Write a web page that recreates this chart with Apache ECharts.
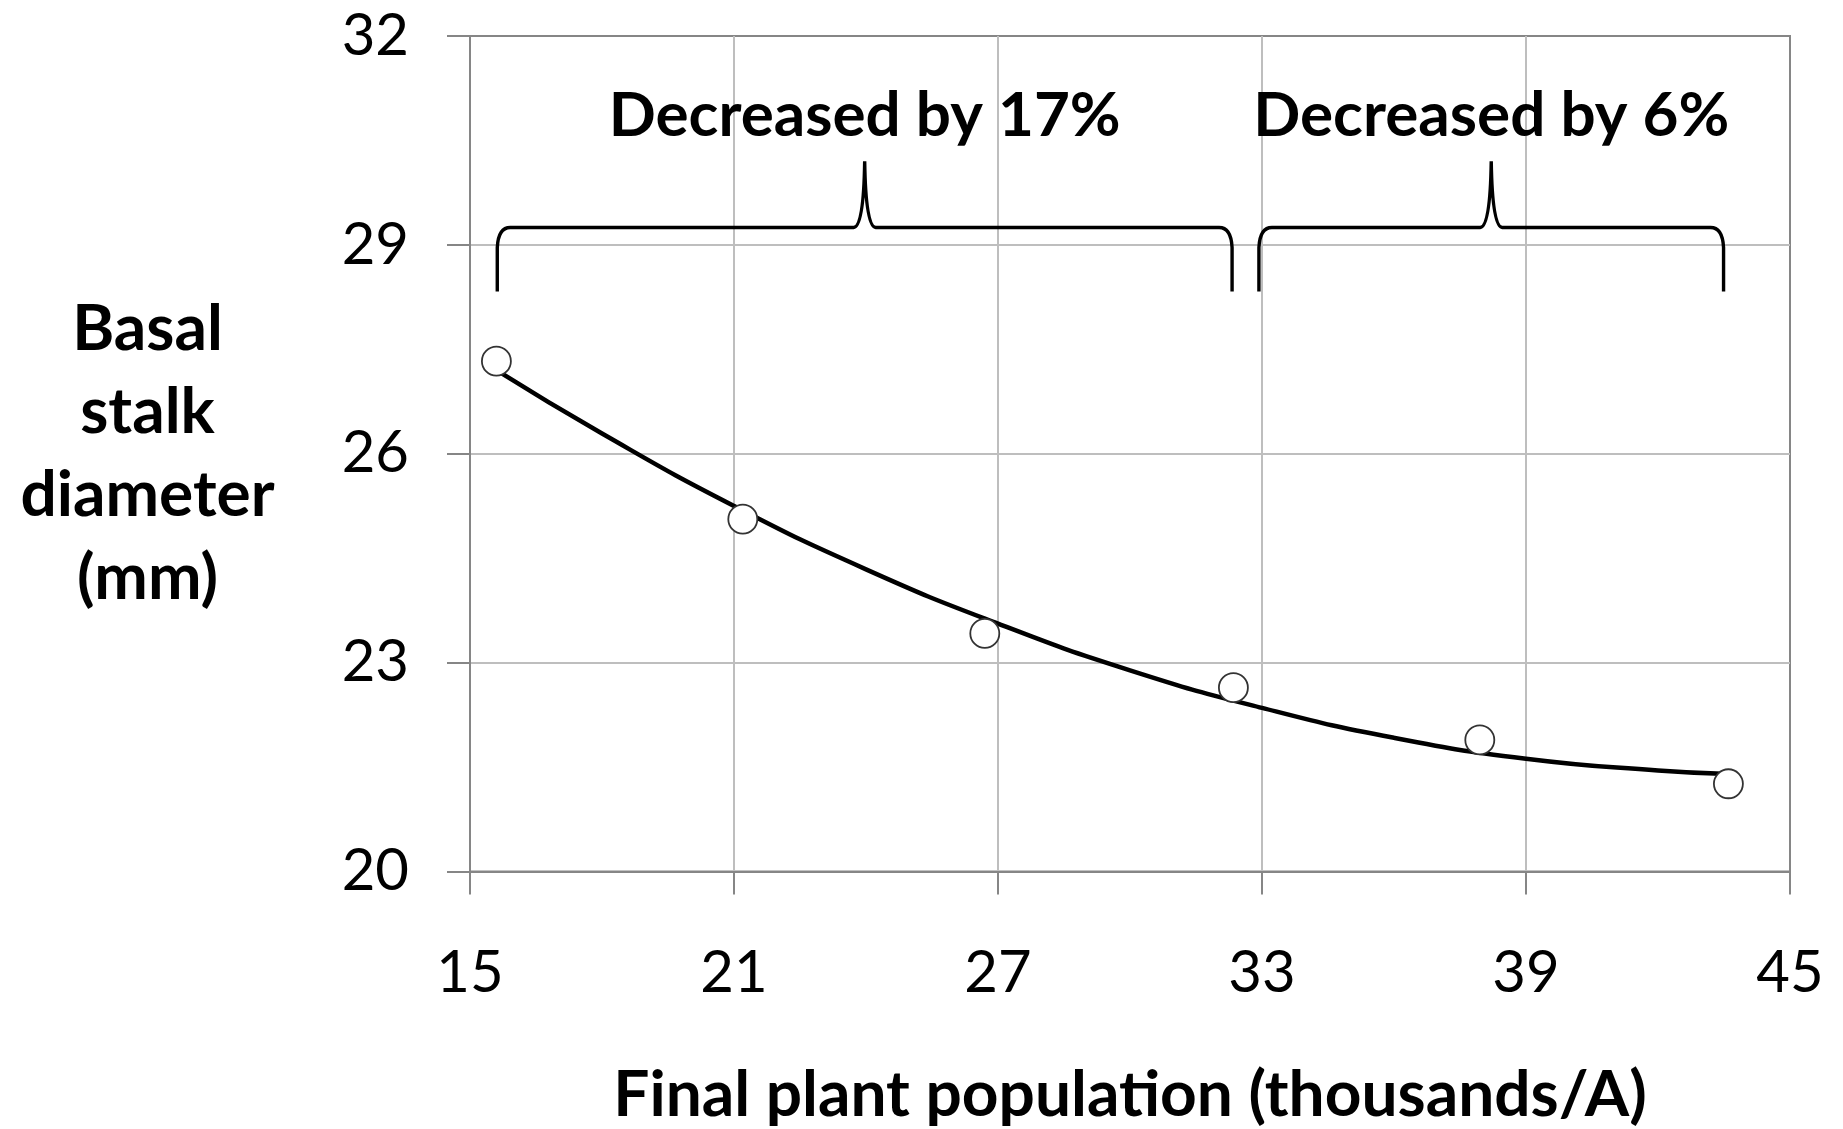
<!DOCTYPE html>
<html><head><meta charset="utf-8">
<script src="https://cdn.jsdelivr.net/npm/echarts@6/dist/echarts.min.js"></script>
<style>html,body{margin:0;padding:0;background:#fff;}#c{width:1843px;height:1129px;}</style>
</head><body><div id="c"></div>
<script>
// ---- data ----
const populationX   = [15.6, 21.2, 26.7, 32.35, 37.95, 43.6];
const stalkDiameter = [27.33, 25.06, 23.42, 22.64, 21.89, 21.26];
const trendX = [15.6, 18, 21, 24, 27, 30, 33, 36, 39, 42, 43.6];
const trendY = [27.20, 26.29, 25.25, 24.34, 23.56, 22.89, 22.35, 21.92, 21.62, 21.45, 21.40];
const braceStart  = [15.62, 32.93];
const braceEnd    = [32.32, 43.49];
const braceLabels = ['Decreased by 17%', 'Decreased by 6%'];
const xTicks = [15, 21, 27, 33, 39, 45];
const yTicks = [20, 23, 26, 29, 32];
const xTitle = 'Final plant population (thousands/A)';
const yTitle = 'Basal\nstalk\ndiameter\n(mm)';

// ---- layout / style constants ----
const FONT = 'Lato';
const AXIS_GRAY = '#868686';
const GRID_GRAY = '#bebebe';
const BRACE_H = 29.25, BRACE_BOTTOM = 28.33, BRACE_PEAK = 30.2, LABEL_Y = 30.85;

function renderBrace(params, api) {
  const i = params.dataIndex;
  const x1 = api.value(0), x2 = api.value(1);
  const xm = (x1 + x2) / 2;
  const L = api.coord([x1, BRACE_H])[0];
  const R = api.coord([x2, BRACE_H])[0];
  const M = api.coord([xm, BRACE_H])[0];
  const yH = api.coord([x1, BRACE_H])[1];
  const yB = api.coord([x1, BRACE_BOTTOM])[1];
  const yT = api.coord([x1, BRACE_PEAK])[1];
  const yL = api.coord([xm, LABEL_Y])[1];
  const d = `M${L},${yB} L${L},${yH + 20} Q${L + 1},${yH} ${L + 13},${yH} ` +
            `L${M - 11},${yH} Q${M - 1},${yH} ${M},${yT} Q${M + 1},${yH} ${M + 11},${yH} ` +
            `L${R - 13},${yH} Q${R - 1},${yH} ${R},${yH + 20} L${R},${yB}`;
  return {
    type: 'group',
    children: [
      { type: 'path', shape: { pathData: d },
        style: { stroke: '#000', lineWidth: 3.4, fill: null } },
      { type: 'text',
        style: { text: braceLabels[i], x: M, y: yL, align: 'center', verticalAlign: 'middle',
                 fill: '#000', fontSize: 62, fontWeight: 'bold', fontFamily: FONT } }
    ]
  };
}

const chart = echarts.init(document.getElementById('c'), null, { renderer: 'canvas' });
chart.setOption({
  animation: false,
  backgroundColor: '#fff',
  grid: { left: 470, right: 53, top: 36, bottom: 257.5, show: true,
          borderColor: AXIS_GRAY, borderWidth: 2, containLabel: false, outerBoundsMode: 'none' },
  xAxis: {
    type: 'value', min: xTicks[0], max: xTicks[xTicks.length - 1], interval: xTicks[1] - xTicks[0],
    name: xTitle, nameLocation: 'middle', nameGap: 224,
    nameTextStyle: { fontSize: 64, fontWeight: 'bold', fontFamily: FONT, color: '#000',
                     align: 'center', verticalAlign: 'middle' },
    axisLine: { show: true, onZero: false, lineStyle: { color: AXIS_GRAY, width: 2 } },
    axisTick: { show: true, length: 23, lineStyle: { color: AXIS_GRAY, width: 2 } },
    axisLabel: { margin: 73, fontSize: 58, fontFamily: FONT, color: '#000', hideOverlap: false },
    splitLine: { show: true, showMaxLine: false, lineStyle: { color: GRID_GRAY, width: 2 } }
  },
  yAxis: {
    type: 'value', min: yTicks[0], max: yTicks[yTicks.length - 1], interval: yTicks[1] - yTicks[0],
    name: yTitle, nameLocation: 'middle', nameRotate: 0, nameGap: 322.5,
    nameTextStyle: { fontSize: 64, fontWeight: 'bold', fontFamily: FONT, color: '#000',
                     lineHeight: 83, align: 'center', verticalAlign: 'middle' },
    axisLine: { show: true, onZero: false, lineStyle: { color: AXIS_GRAY, width: 2 } },
    axisTick: { show: true, length: 23, lineStyle: { color: AXIS_GRAY, width: 2 } },
    axisLabel: { margin: 61, fontSize: 58, fontFamily: FONT, color: '#000', hideOverlap: false },
    splitLine: { show: true, showMaxLine: false, lineStyle: { color: GRID_GRAY, width: 2 } }
  },
  series: [
    { type: 'line', data: trendX.map((x, i) => [x, trendY[i]]), smooth: true,
      showSymbol: false, silent: true, lineStyle: { color: '#000', width: 4.5 }, z: 2 },
    { type: 'scatter', data: populationX.map((x, i) => [x, stalkDiameter[i]]),
      symbol: 'circle', symbolSize: 29, silent: true,
      itemStyle: { color: '#fff', borderColor: '#333', borderWidth: 1.8, opacity: 1 }, z: 3 },
    { type: 'custom', renderItem: renderBrace, clip: false, silent: true,
      data: braceStart.map((s, i) => [s, braceEnd[i]]), encode: { x: [0, 1] }, z: 4 }
  ]
});
</script></body></html>
